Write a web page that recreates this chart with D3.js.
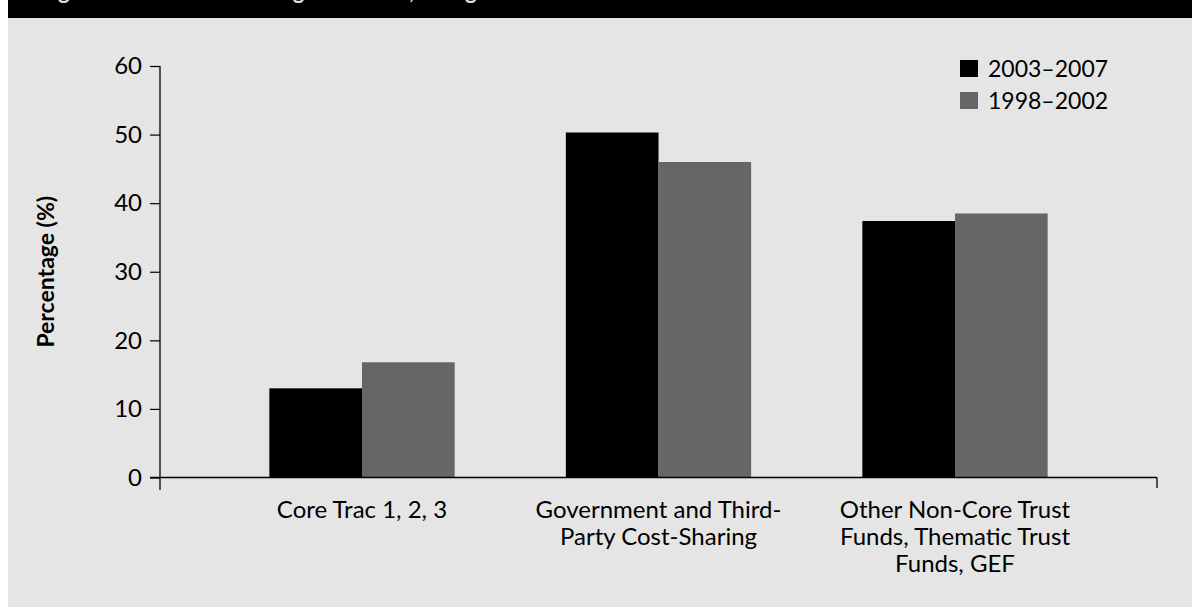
<!DOCTYPE html>
<html>
<head>
<meta charset="utf-8">
<script src="https://cdn.jsdelivr.net/npm/d3@7"></script>
<style>
  html, body { margin: 0; padding: 0; background: #fff; }
  svg { display: block; }
  text { font-family: "Myriad Pro", Lato, "Open Sans", sans-serif; fill: #000; }
  .tick text { font-size: 24px; }
  .cat { font-size: 24px; }
  .leg { font-size: 23px; }
  .ytitle { font-size: 23px; font-weight: bold; }
  .title { font-size: 22px; font-weight: bold; fill: #e0e0e0; }
</style>
</head>
<body>
<svg id="chart" width="1192" height="607"></svg>
<script>
// funding shares by source, two periods
const categories = ["Core Trac 1, 2, 3", "Government and Third-Party Cost-Sharing",
  "Other Non-Core Trust Funds, Thematic Trust Funds, GEF"];
const catLines = [["Core Trac 1, 2, 3"], ["Government and Third-", "Party Cost-Sharing"],
  ["Other Non-Core Trust", "Funds, Thematic Trust", "Funds, GEF"]];
const seriesNames = ["2003–2007", "1998–2002"];
const recent = [13.0, 50.3, 37.4];   // 2003–2007
const earlier = [16.8, 46.0, 38.5];  // 1998–2002
const yTicks = [0, 10, 20, 30, 40, 50, 60];
const COL = ["#000000", "#666666"];

const svg = d3.select("#chart");

// panel + black title band (title itself is cropped off at the top in the source)
svg.append("rect").attr("x", 8).attr("y", 0).attr("width", 1184).attr("height", 607).attr("fill", "#e5e5e5");
svg.append("rect").attr("x", 8).attr("y", 0).attr("width", 1184).attr("height", 18).attr("fill", "#000");
svg.append("text").attr("class", "title").attr("x", 40).attr("y", -1)
  .text("Figure 3. Shares of Funding Resources, Categories");

const y = d3.scaleLinear().domain([0, 60]).range([477.5, 66]);
const x = d3.scaleBand().domain(categories).range([213.75, 1103.25])
  .paddingInner(0.375).paddingOuter(0.1875);
const xs = d3.scaleBand().domain(seriesNames).range([0, x.bandwidth()]);

// y axis
const yAxis = svg.append("g").attr("transform", "translate(160,0)")
  .call(d3.axisLeft(y).tickValues(yTicks).tickSize(10).tickPadding(8).tickSizeOuter(0));
yAxis.select(".domain").remove();
yAxis.selectAll(".tick line").attr("stroke", "#000").attr("stroke-width", 1.2);
yAxis.selectAll(".tick text").attr("font-family", null).attr("font-size", null);

// bars
const data = categories.map((c, i) => ({ cat: c, vals: [recent[i], earlier[i]] }));
const g = svg.selectAll("g.grp").data(data).join("g").attr("class", "grp")
  .attr("transform", (d) => `translate(${x(d.cat)},0)`);
g.selectAll("rect").data((d) => d.vals.map((v, k) => ({ v, k })))
  .join("rect")
  .attr("x", (d) => xs(seriesNames[d.k]))
  .attr("width", xs.bandwidth())
  .attr("y", (d) => y(d.v))
  .attr("height", (d) => y(0) - y(d.v))
  .attr("fill", (d) => COL[d.k]);

// axis lines
const x0 = 150, x1 = 1157;
svg.append("line").attr("x1", 160).attr("x2", 160).attr("y1", y(60)).attr("y2", 490)
  .attr("stroke", "#000").attr("stroke-width", 1.3);
svg.append("line").attr("x1", x0).attr("x2", x1).attr("y1", y(0)).attr("y2", y(0))
  .attr("stroke", "#000").attr("stroke-width", 1.3);
svg.append("line").attr("x1", x1).attr("x2", x1).attr("y1", y(0)).attr("y2", 488)
  .attr("stroke", "#000").attr("stroke-width", 1.3);

// category labels
svg.selectAll("text.cat").data(categories).join("text").attr("class", "cat")
  .attr("text-anchor", "middle")
  .attr("y", 518)
  .each(function (c, i) {
    d3.select(this).selectAll("tspan").data(catLines[i]).join("tspan")
      .attr("x", x(c) + x.bandwidth() / 2)
      .attr("dy", (_, k) => k === 0 ? 0 : 27)
      .text((t) => t);
  });

// y title
svg.append("text").attr("class", "ytitle")
  .attr("transform", `translate(54,${y(30)}) rotate(-90)`)
  .attr("text-anchor", "middle").text("Percentage (%)");

// legend
const leg = svg.append("g").attr("transform", "translate(960,60)");
seriesNames.forEach((s, k) => {
  leg.append("rect").attr("x", 0).attr("y", k * 32).attr("width", 18).attr("height", 17)
    .attr("fill", COL[k]);
  leg.append("text").attr("class", "leg").attr("x", 28).attr("y", k * 32 + 17).text(s);
});
</script>
</body>
</html>
